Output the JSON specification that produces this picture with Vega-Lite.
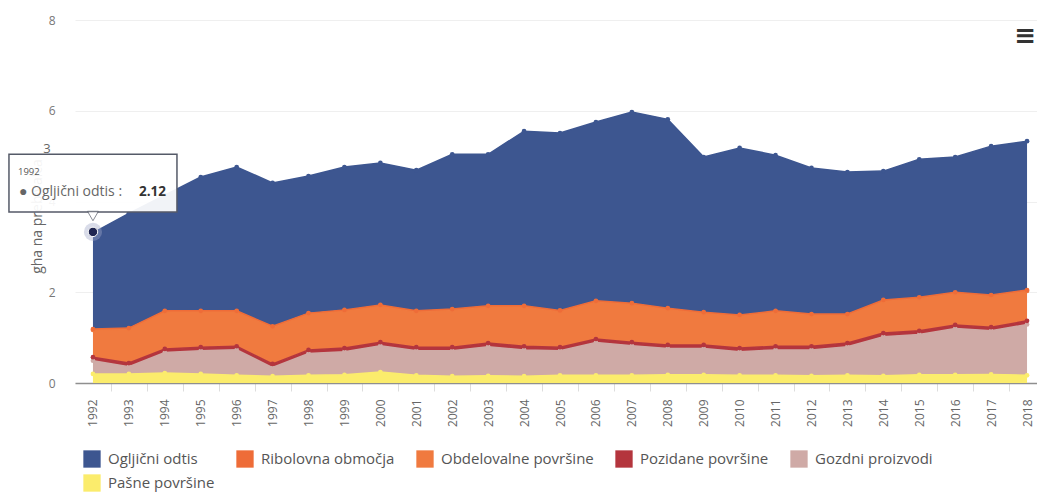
{"$schema":"https://vega.github.io/schema/vega-lite/v6.json","width":962,"height":363,"autosize":{"type":"none"},"padding":{"left":75,"top":20,"right":0,"bottom":116},"background":"#ffffff","config":{"view":{"stroke":null},"font":"Open Sans"},"datasets":{"rows":[
{"y":1992,"Pašne površine":0.20,"Gozdni proizvodi":0.29,"Pozidane površine":0.08,"Obdelovalne površine":0.60,"Ribolovna območja":0.02,"Ogljični odtis":2.12},
{"y":1993,"Pašne površine":0.20,"Gozdni proizvodi":0.16,"Pozidane površine":0.08,"Obdelovalne površine":0.75,"Ribolovna območja":0.02,"Ogljični odtis":2.53},
{"y":1994,"Pašne površine":0.22,"Gozdni proizvodi":0.45,"Pozidane površine":0.08,"Obdelovalne površine":0.82,"Ribolovna območja":0.02,"Ogljični odtis":2.55},
{"y":1995,"Pašne površine":0.20,"Gozdni proizvodi":0.51,"Pozidane površine":0.08,"Obdelovalne površine":0.78,"Ribolovna območja":0.02,"Ogljični odtis":2.95},
{"y":1996,"Pašne površine":0.17,"Gozdni proizvodi":0.56,"Pozidane površine":0.08,"Obdelovalne površine":0.76,"Ribolovna območja":0.02,"Ogljični odtis":3.17},
{"y":1997,"Pašne površine":0.15,"Gozdni proizvodi":0.19,"Pozidane površine":0.08,"Obdelovalne površine":0.81,"Ribolovna območja":0.02,"Ogljični odtis":3.16},
{"y":1998,"Pašne površine":0.17,"Gozdni proizvodi":0.48,"Pozidane površine":0.08,"Obdelovalne površine":0.79,"Ribolovna območja":0.02,"Ogljični odtis":3.02},
{"y":1999,"Pašne površine":0.18,"Gozdni proizvodi":0.51,"Pozidane površine":0.08,"Obdelovalne površine":0.82,"Ribolovna območja":0.02,"Ogljični odtis":3.15},
{"y":2000,"Pašne površine":0.24,"Gozdni proizvodi":0.58,"Pozidane površine":0.08,"Obdelovalne površine":0.80,"Ribolovna območja":0.02,"Ogljični odtis":3.13},
{"y":2001,"Pašne površine":0.17,"Gozdni proizvodi":0.54,"Pozidane površine":0.08,"Obdelovalne površine":0.78,"Ribolovna območja":0.02,"Ogljični odtis":3.10},
{"y":2002,"Pašne površine":0.15,"Gozdni proizvodi":0.56,"Pozidane površine":0.08,"Obdelovalne površine":0.82,"Ribolovna območja":0.02,"Ogljični odtis":3.41},
{"y":2003,"Pašne površine":0.16,"Gozdni proizvodi":0.64,"Pozidane površine":0.08,"Obdelovalne površine":0.80,"Ribolovna območja":0.02,"Ogljični odtis":3.34},
{"y":2004,"Pašne površine":0.15,"Gozdni proizvodi":0.58,"Pozidane površine":0.08,"Obdelovalne površine":0.87,"Ribolovna območja":0.02,"Ogljični odtis":3.85},
{"y":2005,"Pašne površine":0.17,"Gozdni proizvodi":0.54,"Pozidane površine":0.08,"Obdelovalne površine":0.79,"Ribolovna območja":0.02,"Ogljični odtis":3.91},
{"y":2006,"Pašne površine":0.17,"Gozdni proizvodi":0.72,"Pozidane površine":0.08,"Obdelovalne površine":0.82,"Ribolovna območja":0.02,"Ogljični odtis":3.94},
{"y":2007,"Pašne površine":0.17,"Gozdni proizvodi":0.65,"Pozidane površine":0.08,"Obdelovalne površine":0.84,"Ribolovna območja":0.02,"Ogljični odtis":4.21},
{"y":2008,"Pašne površine":0.18,"Gozdni proizvodi":0.58,"Pozidane površine":0.08,"Obdelovalne površine":0.79,"Ribolovna območja":0.02,"Ogljični odtis":4.16},
{"y":2009,"Pašne površine":0.18,"Gozdni proizvodi":0.58,"Pozidane površine":0.08,"Obdelovalne površine":0.70,"Ribolovna območja":0.02,"Ogljični odtis":3.42},
{"y":2010,"Pašne površine":0.17,"Gozdni proizvodi":0.52,"Pozidane površine":0.08,"Obdelovalne površine":0.71,"Ribolovna območja":0.02,"Ogljični odtis":3.68},
{"y":2011,"Pašne površine":0.17,"Gozdni proizvodi":0.56,"Pozidane površine":0.08,"Obdelovalne površine":0.76,"Ribolovna območja":0.02,"Ogljični odtis":3.43},
{"y":2012,"Pašne površine":0.16,"Gozdni proizvodi":0.57,"Pozidane površine":0.08,"Obdelovalne površine":0.69,"Ribolovna območja":0.02,"Ogljični odtis":3.22},
{"y":2013,"Pašne površine":0.17,"Gozdni proizvodi":0.63,"Pozidane površine":0.08,"Obdelovalne površine":0.62,"Ribolovna območja":0.02,"Ogljični odtis":3.13},
{"y":2014,"Pašne površine":0.16,"Gozdni proizvodi":0.86,"Pozidane površine":0.08,"Obdelovalne površine":0.71,"Ribolovna območja":0.02,"Ogljični odtis":2.84},
{"y":2015,"Pašne površine":0.18,"Gozdni proizvodi":0.89,"Pozidane površine":0.08,"Obdelovalne površine":0.72,"Ribolovna območja":0.02,"Ogljični odtis":3.04},
{"y":2016,"Pašne površine":0.18,"Gozdni proizvodi":1.02,"Pozidane površine":0.08,"Obdelovalne površine":0.70,"Ribolovna območja":0.02,"Ogljični odtis":2.98},
{"y":2017,"Pašne površine":0.19,"Gozdni proizvodi":0.96,"Pozidane površine":0.08,"Obdelovalne površine":0.69,"Ribolovna območja":0.02,"Ogljični odtis":3.28},
{"y":2018,"Pašne površine":0.17,"Gozdni proizvodi":1.12,"Pozidane površine":0.08,"Obdelovalne površine":0.66,"Ribolovna območja":0.02,"Ogljični odtis":3.28}
],"stackOrder":[{"s":"Pašne površine","n":0},{"s":"Gozdni proizvodi","n":1},{"s":"Pozidane površine","n":2},{"s":"Obdelovalne površine","n":3},{"s":"Ribolovna območja","n":4},{"s":"Ogljični odtis","n":5}]},
"layer":[
{"data":{"name":"rows"},"transform":[{"fold":["Pašne površine","Gozdni proizvodi","Pozidane površine","Obdelovalne površine","Ribolovna območja","Ogljični odtis"],"as":["s","v"]},{"lookup":"s","from":{"data":{"name":"stackOrder"},"key":"s","fields":["n"]}}],
"mark":{"type":"area","opacity":1,"line":{"strokeWidth":1.5},"point":{"size":22,"filled":true,"opacity":1}},
"encoding":{"x":{"field":"y","type":"ordinal","scale":{"type":"point","padding":0.5,"domain":[1992,1993,1994,1995,1996,1997,1998,1999,2000,2001,2002,2003,2004,2005,2006,2007,2008,2009,2010,2011,2012,2013,2014,2015,2016,2017,2018],"range":[0,970]},"axis":{"title":null,"labelAngle":-90,"labelFontSize":12,"labelColor":"#666666","labelPadding":8,"tickColor":"#dddddd","tickSize":8,"tickOffset":18,"labelOffset":-18,"domainColor":"#8f8f8f","domainWidth":1.5,"grid":false,"labelBaseline":"middle","labelAlign":"right"}},
"y":{"field":"v","type":"quantitative","stack":"zero","scale":{"domain":[0,8],"nice":false},"axis":{"title":"gha na prebivalca","titleFontSize":14,"titleFontWeight":"normal","titleColor":"#666666","titleX":-31,"titleY":196,"values":[0,2,4,6,8],"labelFontSize":12,"labelColor":"#777777","labelPadding":20,"tickSize":0,"domain":false,"grid":true,"gridColor":"#efefef"}},
"color":{"field":"s","type":"nominal","scale":{"domain":["Ogljični odtis","Ribolovna območja","Obdelovalne površine","Pozidane površine","Gozdni proizvodi","Pašne površine"],"range":["#3d5690","#ee6c38","#f07a3f","#b4353d","#cfaaa6","#fbec6c"]},"legend":{"orient":"none","legendX":8,"legendY":430,"title":null,"direction":"horizontal","columns":5,"gridAlign":"none","columnPadding":21,"rowPadding":6,"symbolType":"square","symbolSize":300,"symbolStrokeWidth":0,"symbolOpacity":1,"labelFontSize":15,"labelColor":"#555555","labelLimit":175,"labelOffset":7}},
"order":{"field":"n","type":"quantitative"}}},
{"data":{"values":[{"y":1992,"a":3.77,"b":5.04}]},"mark":{"type":"rect","width":168,"fill":"#ffffff","fillOpacity":0.93,"stroke":"#555a68","strokeWidth":1.5},"encoding":{"x":{"field":"y","type":"ordinal"},"y":{"field":"a","type":"quantitative"},"y2":{"field":"b"}}},
{"data":{"values":[{"y":1992,"a":3.68}]},"mark":{"type":"point","shape":"triangle-down","filled":true,"fill":"#ffffff","stroke":"#555a68","strokeWidth":1,"size":120},"encoding":{"x":{"field":"y","type":"ordinal"},"y":{"field":"a","type":"quantitative"}}},
{"data":{"values":[{"y":1992,"a":3.33}]},"mark":{"type":"point","filled":true,"fill":"#9fa8c8","fillOpacity":0.4,"stroke":null,"size":330},"encoding":{"x":{"field":"y","type":"ordinal"},"y":{"field":"a","type":"quantitative"}}},
{"data":{"values":[{"y":1992,"a":3.33}]},"mark":{"type":"point","filled":true,"fill":"#1f2550","fillOpacity":1,"stroke":"#ffffff","strokeWidth":1,"size":90},"encoding":{"x":{"field":"y","type":"ordinal"},"y":{"field":"a","type":"quantitative"}}},
{"data":{"values":[{"y":1992,"a":4.66,"t":"1992"}]},"mark":{"type":"text","align":"left","dx":-75,"fontSize":9.5,"color":"#555555"},"encoding":{"x":{"field":"y","type":"ordinal"},"y":{"field":"a","type":"quantitative"},"text":{"field":"t"}}},
{"data":{"values":[{"y":1992,"a":4.2,"t":"● Ogljični odtis :"}]},"mark":{"type":"text","align":"left","dx":-74,"fontSize":14,"color":"#666666"},"encoding":{"x":{"field":"y","type":"ordinal"},"y":{"field":"a","type":"quantitative"},"text":{"field":"t"}}},
{"data":{"values":[{"y":1992,"a":4.2,"t":"2.12"}]},"mark":{"type":"text","align":"left","dx":46,"fontSize":13.5,"fontWeight":"bold","color":"#333333"},"encoding":{"x":{"field":"y","type":"ordinal"},"y":{"field":"a","type":"quantitative"},"text":{"field":"t"}}},
{"data":{"values":[{"y":1992,"a":5.15,"t":"3"}]},"mark":{"type":"text","dx":-46,"fontSize":13,"color":"#666666"},"encoding":{"x":{"field":"y","type":"ordinal"},"y":{"field":"a","type":"quantitative"},"text":{"field":"t"}}},
{"data":{"values":[{"y":2018,"a":7.64,"t":"≡"}]},"mark":{"type":"text","font":"DejaVu Sans","fontWeight":"bold","dx":-2,"fontSize":26,"color":"#333333"},"encoding":{"x":{"field":"y","type":"ordinal"},"y":{"field":"a","type":"quantitative"},"text":{"field":"t"}}}
]}
